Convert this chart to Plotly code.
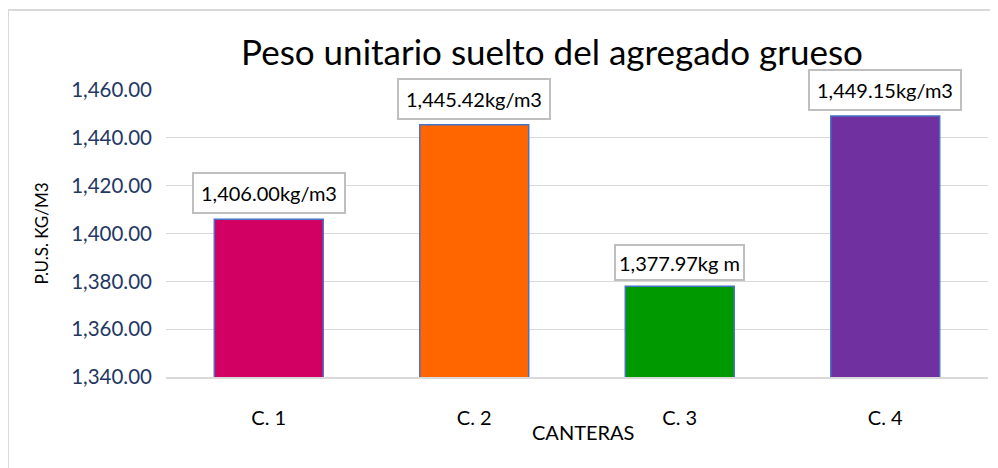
import plotly.graph_objects as go

categories = ["C. 1", "C. 2", "C. 3", "C. 4"]
values = [1406.00, 1445.42, 1377.97, 1449.15]
labels = ["1,406.00kg/m3", "1,445.42kg/m3", "1,377.97kg m", "1,449.15kg/m3"]
colors = ["#D20063", "#FF6600", "#009900", "#7030A0"]
y_ticks = [1340, 1360, 1380, 1400, 1420, 1440, 1460]
y_ticktext = ["1,340.00", "1,360.00", "1,380.00", "1,400.00", "1,420.00", "1,440.00", "1,460.00"]

FONT = "Lato"
L, T, R, B = 158, 82, 18, 99
PH = 468 - T - B
PW = 998 - L - R

fig = go.Figure()
fig.add_trace(go.Bar(
    x=categories, y=values,
    marker=dict(color=colors, line=dict(color="#4472C4", width=1.5)),
    width=0.53,
))

for c, v, t in zip(categories, values, labels):
    short = t.endswith(" m")
    fig.add_annotation(
        x=c, y=v, text=t, showarrow=False, yanchor="bottom", yshift=5,
        font=dict(family=FONT, size=20, color="#000000"),
        bordercolor="#BFBFBF", borderwidth=2, borderpad=1, bgcolor="white",
        width=125 if short else 148, height=31 if short else 36,
        valign="middle",
    )

fig.add_annotation(
    x=(575 - L) / PW, y=-55 / PH, xref="paper", yref="paper",
    text="CANTERAS", showarrow=False, xanchor="center", yanchor="middle",
    font=dict(family=FONT, size=20, color="#000000"),
)

fig.update_layout(
    width=998, height=468,
    margin=dict(l=L, r=R, t=T, b=B),
    paper_bgcolor="white", plot_bgcolor="white",
    showlegend=False,
    title=dict(text="Peso unitario suelto del agregado grueso",
               font=dict(family=FONT, size=35, color="#000000"),
               x=(544) / 998, xanchor="center", y=1 - 45 / 468, yanchor="middle"),
    xaxis=dict(
        tickfont=dict(family=FONT, size=20, color="#000000"),
        showline=True, linecolor="#D9D9D9", linewidth=2,
        ticks="", ticklabelstandoff=22,
    ),
    yaxis=dict(
        title=dict(text="P.U.S. KG/M3", font=dict(family=FONT, size=17, color="#000000"), standoff=18),
        range=[1340, 1460],
        tickvals=y_ticks, ticktext=y_ticktext,
        tickfont=dict(family=FONT, size=20.5, color="#1F3864"),
        showgrid=True, gridcolor="#D9D9D9", gridwidth=1,
        ticks="", ticklabelstandoff=13, zeroline=False,
    ),
)

fig.add_shape(type="line", xref="paper", yref="paper",
              x0=(0 - L) / PW, x1=(1010 - L) / PW, y0=(468 - 2 - B) / PH, y1=(468 - 2 - B) / PH,
              line=dict(color="#D9D9D9", width=2), layer="below")
fig.add_shape(type="line", xref="paper", yref="paper",
              x0=(0 - L) / PW, x1=(0 - L) / PW, y0=-B / PH - 0.05, y1=(468 - 2 - B) / PH,
              line=dict(color="#D9D9D9", width=2), layer="below")

fig.write_html("out.html")
